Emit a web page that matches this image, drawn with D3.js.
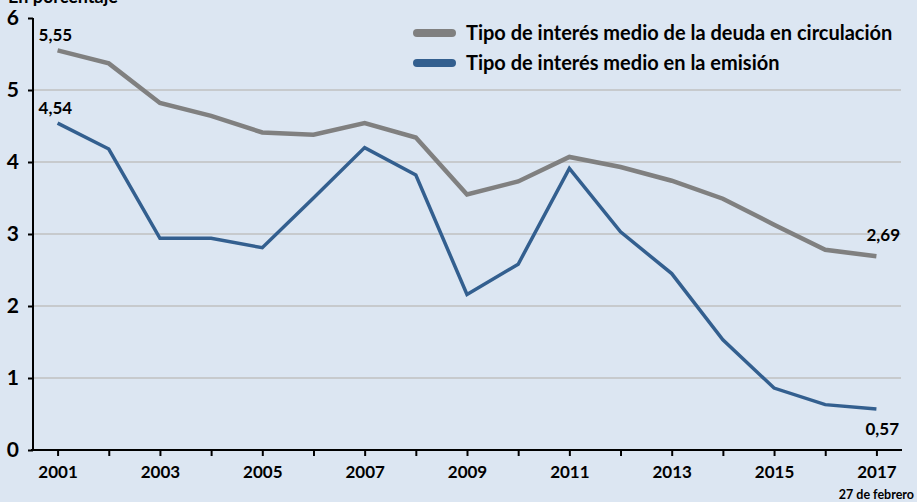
<!DOCTYPE html>
<html><head><meta charset="utf-8">
<script src="https://cdn.jsdelivr.net/npm/d3@7"></script>
<style>
html,body{margin:0;padding:0;background:#dce6f2;}
svg{display:block;font-family:Lato,"Liberation Sans",sans-serif;font-weight:bold;}
</style></head><body>
<svg id="c" width="917" height="502"></svg>
<script>
const years = [2001,2002,2003,2004,2005,2006,2007,2008,2009,2010,2011,2012,2013,2014,2015,2016,2017];
const deudaCirculacion = [5.55,5.37,4.82,4.64,4.41,4.38,4.54,4.34,3.55,3.73,4.07,3.93,3.74,3.49,3.13,2.78,2.69];
const emision = [4.54,4.18,2.94,2.94,2.81,3.50,4.20,3.82,2.16,2.58,3.91,3.03,2.45,1.53,0.86,0.63,0.57];
const yTicks = [0,1,2,3,4,5,6];
const xTickLabels = ["2001","2003","2005","2007","2009","2011","2013","2015","2017"];
const seriesNames = ["Tipo de interés medio de la deuda en circulación","Tipo de interés medio en la emisión"];
const colors = ["#808080","#335f8f"];

const svg = d3.select("#c");
svg.append("rect").attr("width",917).attr("height",502).attr("fill","#dce6f2");

const x = d3.scalePoint().domain(years).range([32,902]).padding(0.5);
const y = d3.scaleLinear().domain([0,6]).range([450,18]);

// gridlines
svg.append("g").selectAll("line").data(yTicks.filter(d=>d>0 && d<6)).join("line")
  .attr("x1",33).attr("x2",901).attr("y1",d=>y(d)).attr("y2",d=>y(d))
  .attr("stroke","#c0c0c0").attr("stroke-width",1.5);

// y axis
const yAxis = svg.append("g").attr("transform","translate(33,0)")
  .call(d3.axisLeft(y).tickValues(yTicks).tickSize(5).tickPadding(9).tickFormat(d3.format("d")));
yAxis.select(".domain").attr("stroke","#000").attr("stroke-width",2).attr("d","M0,"+y(6)+"V"+y(0));
yAxis.selectAll(".tick line").attr("stroke","#000").attr("stroke-width",2);
yAxis.selectAll("text").attr("font-size",21).attr("font-family","Lato,sans-serif").attr("font-weight","bold").attr("fill","#000");

// x axis
const xAxis = svg.append("g").attr("transform","translate(0,450)")
  .call(d3.axisBottom(x).tickSize(6).tickPadding(10).tickFormat(d=>xTickLabels.includes(String(d))?String(d):""));
xAxis.select(".domain").attr("stroke","#000").attr("stroke-width",2).attr("d","M31,0H902");
xAxis.selectAll(".tick line").attr("stroke","#000").attr("stroke-width",2);
xAxis.selectAll("text").attr("font-size",17).attr("font-family","Lato,sans-serif").attr("font-weight","bold").attr("fill","#000");

svg.append("text").attr("x",914).attr("y",499).attr("text-anchor","end")
  .attr("font-size",12.5).text("27 de febrero");

// lines
const line = d3.line().x((d,i)=>x(years[i])).y(d=>y(d));
[deudaCirculacion, emision].forEach((s,k)=>{
  svg.append("path").attr("d",line(s)).attr("fill","none")
    .attr("stroke",colors[k]).attr("stroke-width",k===0?4.5:3.5).attr("stroke-linejoin","miter");
});

// value labels
const fmt = v=>d3.format(".2f")(v).replace(".",",");
svg.append("text").attr("x",x(2001)-19).attr("y",y(deudaCirculacion[0])-9).attr("font-size",17).text(fmt(deudaCirculacion[0]));
svg.append("text").attr("x",x(2001)-19).attr("y",y(emision[0])-9).attr("font-size",17).text(fmt(emision[0]));
svg.append("text").attr("x",900).attr("y",y(deudaCirculacion[16])-15).attr("text-anchor","end").attr("font-size",17).text(fmt(deudaCirculacion[16]));
svg.append("text").attr("x",899).attr("y",y(emision[16])+26).attr("text-anchor","end").attr("font-size",17).text(fmt(emision[16]));

// title
svg.append("text").attr("x",8).attr("y",3).attr("font-size",18).text("En porcentaje");

// legend
const lg = svg.append("g");
seriesNames.forEach((n,i)=>{
  const yy = 33 + i*30;
  lg.append("line").attr("x1",417).attr("x2",452).attr("y1",yy).attr("y2",yy)
    .attr("stroke",colors[i]).attr("stroke-width",8).attr("stroke-linecap","round");
  lg.append("text").attr("x",466).attr("y",yy+7).attr("font-size",20).text(n);
});
</script>
</body></html>
